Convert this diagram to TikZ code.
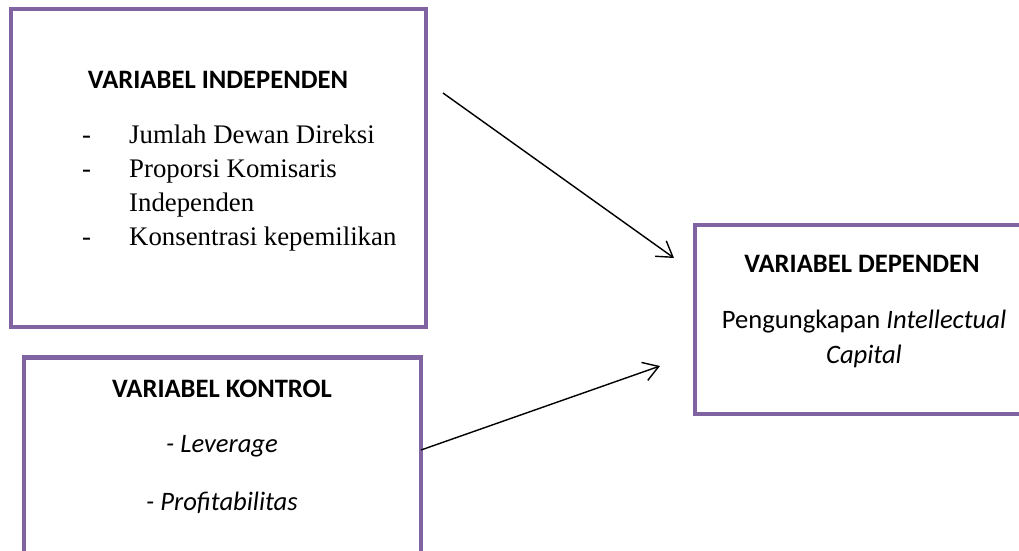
\documentclass[tikz,border=0pt]{standalone}
\usepackage{fontspec}
\setmainfont{Carlito}
\newfontfamily\timesfont{Liberation Serif}
\usetikzlibrary{arrows.meta, positioning}
\definecolor{boxpurple}{HTML}{8064A2}

\begin{document}
\begin{tikzpicture}[x=1pt, y=-1pt,
    varbox/.style={draw=boxpurple, line width=4.7pt, rectangle, inner sep=0pt},
    heading/.style={font=\fontsize{26.6}{32}\selectfont\bfseries, anchor=base},
    itemtext/.style={font=\fontsize{26.6}{32}\selectfont\itshape, anchor=base},
    link/.style={line width=1.4pt, arrows={-Straight Barb[length=15pt, width=19pt]}}]
    \useasboundingbox (0,0) rectangle (1019,550);
    \clip (0,0) rectangle (1019,550);

    % Nodes
    \node[varbox, minimum width=415pt, minimum height=318pt] (indep) at (218.5,168) {};
    \node[varbox, minimum width=397pt, minimum height=223pt] (kontrol) at (222.5,469) {};
    \node[varbox, minimum width=365pt, minimum height=189pt] (dep) at (877.5,319.5) {};

    \node[heading] (indep title) at (218,88) {VARIABEL INDEPENDEN};
    \node[anchor=base west, inner sep=0pt, font=\timesfont\fontsize{26.8}{34}\selectfont] (indep list) at (82,143)
        {\begin{tabular}[t]{@{}p{47pt}@{}l@{}}
            - & Jumlah Dewan Direksi\\
            - & Proporsi Komisaris\\
              & Independen\\
            - & Konsentrasi kepemilikan
        \end{tabular}};

    \node[heading] (kontrol title) at (222,397) {VARIABEL KONTROL};
    \node[itemtext] (leverage) at (222,452) {- Leverage};
    \node[itemtext] (profit) at (222,510) {- Profitabilitas};

    \node[heading] (dep title) at (862,272) {VARIABEL DEPENDEN};
    \node[anchor=base, font=\fontsize{26.6}{32}\selectfont] (dep line1) at (864,328) {Pengungkapan \textit{Intellectual}};
    \node[itemtext] (dep line2) at (864,363) {Capital};

    \coordinate (indep out) at (443,93);
    \coordinate (dep in top) at (674,258);
    \coordinate (kontrol out) at (421,450);
    \coordinate (dep in low) at (660,366);

    % Connections
    \draw[link] (indep out) -- (dep in top);
    \draw[link] (kontrol out) -- (dep in low);
\end{tikzpicture}
\end{document}
